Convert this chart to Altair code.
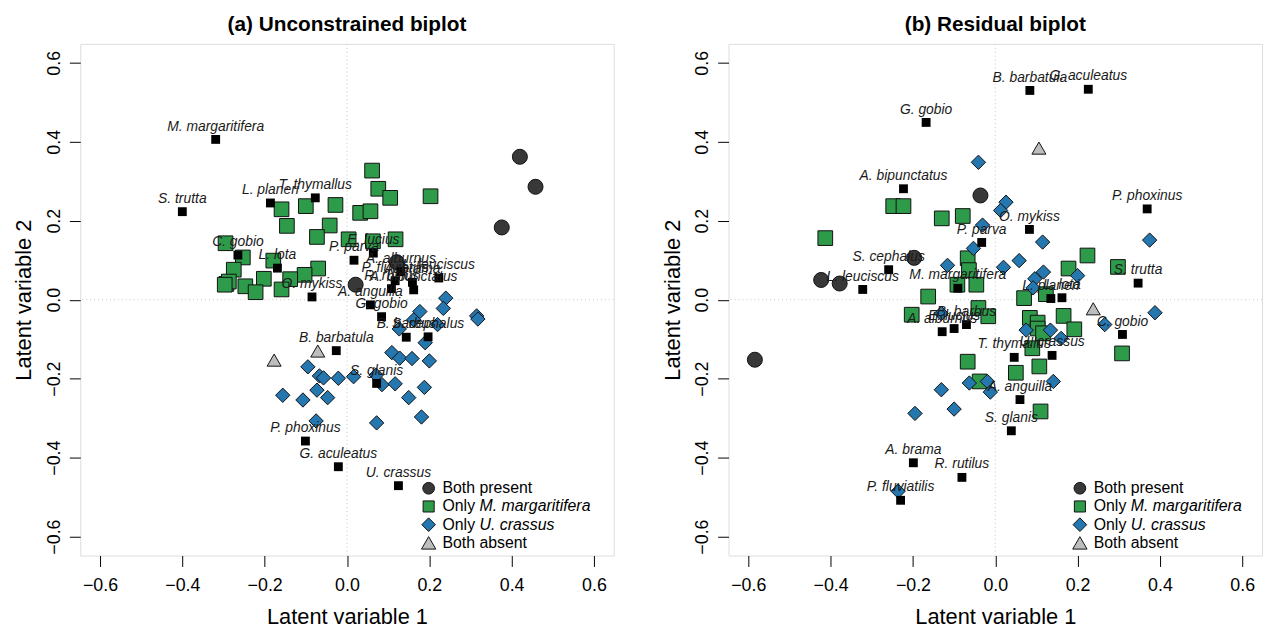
import altair as alt
import pandas as pd

GROUPS = ["Both present", "Only M. margaritifera", "Only U. crassus", "Both absent"]
SHAPES = ["circle", "square", "diamond", "triangle-up"]
FILLS = ["#383838", "#2e9b4a", "#2577b0", "#bdbdbd"]
SIZES = [230, 200, 320, 380]
LEG_PLAIN = ["Both present", "Only ", "Only ", "Both absent"]
LEG_ITALIC = ["", "M. margaritifera", "U. crassus", ""]
LEG_SIZES = [140, 125, 190, 210]
TICKS = [-0.6, -0.4, -0.2, 0.0, 0.2, 0.4, 0.6]
DOMAIN = [-0.648, 0.648]

# ---------------- Panel (a): unconstrained biplot ----------------
a_both_x = [0.420, 0.458, 0.376, 0.121, 0.021]
a_both_y = [0.362, 0.286, 0.183, 0.095, 0.038]
a_absent_x = [-0.177, -0.071]
a_absent_y = [-0.153, -0.130]
a_marg_x = [0.061, 0.076, 0.105, 0.203, -0.028, -0.100, -0.159, 0.032, 0.057, -0.146,
            -0.042, -0.073, 0.004, 0.118, 0.063, -0.295, -0.253, -0.179, -0.275, -0.070,
            -0.103, -0.138, -0.202, -0.293, -0.287, -0.247, -0.222, -0.159, -0.297]
a_marg_y = [0.327, 0.281, 0.258, 0.262, 0.240, 0.237, 0.229, 0.220, 0.224, 0.187,
            0.188, 0.159, 0.153, 0.153, 0.148, 0.143, 0.107, 0.099, 0.076, 0.079,
            0.063, 0.052, 0.053, 0.040, 0.046, 0.034, 0.019, 0.026, 0.038]
a_cras_x = [0.240, 0.234, 0.177, 0.162, 0.315, 0.318, 0.220, 0.127, 0.190, 0.109,
            0.128, 0.158, 0.200, -0.095, -0.067, -0.057, -0.021, 0.016, 0.085, 0.117,
            0.188, -0.156, -0.107, -0.073, -0.047, 0.150, -0.075, 0.072, 0.181, 0.071]
a_cras_y = [0.004, -0.022, -0.030, -0.051, -0.041, -0.049, -0.063, -0.074, -0.109, -0.134,
            -0.148, -0.149, -0.155, -0.170, -0.193, -0.198, -0.199, -0.195, -0.215, -0.213,
            -0.222, -0.242, -0.254, -0.229, -0.248, -0.248, -0.307, -0.312, -0.297, -0.191]

a_species = ["M. margaritifera", "S. trutta", "L. planeri", "T. thymallus", "C. gobio",
             "L. lota", "O. mykiss", "P. parva", "E. lucius", "A. alburnus",
             "P. fluviatilis", "A. brama", "L. leuciscus", "R. rutilus", "A. bipunctatus",
             "A. anguilla", "G. gobio", "B. barbus", "S. cephalus", "B. barbatula",
             "S. glanis", "P. phoxinus", "G. aculeatus", "U. crassus"]
a_species_x = [-0.319, -0.400, -0.186, -0.077, -0.265, -0.169, -0.085, 0.017, 0.064, 0.131,
               0.117, 0.159, 0.223, 0.108, 0.162, 0.057, 0.084, 0.144, 0.197, -0.026,
               0.072, -0.101, -0.021, 0.125]
a_species_y = [0.406, 0.223, 0.245, 0.258, 0.113, 0.080, 0.007, 0.100, 0.118, 0.071,
               0.048, 0.044, 0.055, 0.028, 0.025, -0.013, -0.043, -0.095, -0.094, -0.129,
               -0.212, -0.358, -0.423, -0.471]

# ---------------- Panel (b): residual biplot ----------------
b_both_x = [-0.036, -0.197, -0.423, -0.378, -0.584]
b_both_y = [0.264, 0.106, 0.050, 0.041, -0.152]
b_absent_x = [0.106, 0.238]
b_absent_y = [0.384, -0.023]
b_marg_x = [-0.413, -0.248, -0.223, -0.130, -0.079, -0.067, -0.064, -0.092, -0.046, -0.163,
            -0.203, -0.041, -0.017, 0.070, 0.123, 0.084, 0.103, 0.103, 0.116, 0.166,
            0.192, 0.178, 0.224, 0.298, -0.067, 0.090, 0.050, 0.107, -0.038, 0.110, 0.308]
b_marg_y = [0.156, 0.237, 0.237, 0.206, 0.212, 0.105, 0.075, 0.038, 0.038, 0.008,
            -0.038, -0.021, -0.042, 0.004, 0.014, -0.046, -0.058, -0.073, -0.085, -0.041,
            -0.075, 0.079, 0.112, 0.083, -0.157, -0.123, -0.185, -0.169, -0.207, -0.283, -0.136]
b_cras_x = [-0.041, 0.026, 0.013, -0.031, 0.115, -0.053, -0.116, 0.020, 0.058, 0.117,
            0.096, 0.092, 0.200, 0.375, -0.131, 0.075, 0.134, 0.160, 0.266, 0.388,
            -0.063, -0.019, -0.012, 0.141, -0.131, -0.100, -0.195, -0.236]
b_cras_y = [0.348, 0.247, 0.226, 0.189, 0.146, 0.130, 0.087, 0.082, 0.099, 0.070,
            0.053, 0.030, 0.061, 0.151, -0.035, -0.077, -0.077, -0.098, -0.063, -0.033,
            -0.211, -0.207, -0.234, -0.207, -0.228, -0.277, -0.288, -0.485]

b_species = ["B. barbatula", "G. aculeatus", "G. gobio", "A. bipunctatus", "P. phoxinus",
             "O. mykiss", "P. parva", "S. cephalus", "L. leuciscus", "M. margaritifera",
             "S. trutta", "L. planeri", "L. lota", "C. gobio", "A. alburnus",
             "E. lucius", "B. barbus", "T. thymallus", "U. crassus", "A. anguilla",
             "S. glanis", "A. brama", "R. rutilus", "P. fluviatilis"]
b_species_x = [0.084, 0.226, -0.168, -0.223, 0.369, 0.083, -0.033, -0.259, -0.322, -0.091,
               0.347, 0.135, 0.162, 0.309, -0.129, -0.100, -0.070, 0.046, 0.138, 0.060,
               0.039, -0.199, -0.081, -0.230]
b_species_y = [0.530, 0.533, 0.449, 0.281, 0.230, 0.178, 0.145, 0.076, 0.026, 0.029,
               0.042, 0.003, 0.005, -0.088, -0.081, -0.073, -0.063, -0.146, -0.141, -0.253,
               -0.332, -0.413, -0.450, -0.508]

FONT = "Liberation Sans"
FILL_SCALE = alt.Scale(domain=GROUPS, range=FILLS)
SHAPE_SCALE = alt.Scale(domain=GROUPS, range=SHAPES)


def sites_frame(both, marg, cras, absent):
    rows = []
    for grp, (xs, ys) in zip([GROUPS[1], GROUPS[2], GROUPS[0], GROUPS[3]],
                             [marg, cras, both, absent]):
        for x, y in zip(xs, ys):
            rows.append({"x": x, "y": y, "group": grp, "order": len(rows)})
    return pd.DataFrame(rows)


def legend_layers(sym_x, text_x, top_y, step):
    layers = []
    for i, grp in enumerate(GROUPS):
        row = pd.DataFrame({"group": [grp], "plain": [LEG_PLAIN[i]], "ital": [LEG_ITALIC[i]]})
        yv = alt.value(top_y + i * step)
        layers.append(alt.Chart(row).mark_point(filled=True, stroke="#111", strokeWidth=1,
                                                opacity=1, size=LEG_SIZES[i]).encode(
            x=alt.value(sym_x), y=yv,
            fill=alt.Fill("group:N", scale=FILL_SCALE, legend=None),
            shape=alt.Shape("group:N", scale=SHAPE_SCALE, legend=None)))
        layers.append(alt.Chart(row).mark_text(font=FONT, fontSize=16, align="left",
                                               baseline="middle", color="#000").encode(
            x=alt.value(text_x), y=yv, text="plain:N"))
        if LEG_ITALIC[i]:
            layers.append(alt.Chart(row).mark_text(font=FONT, fontSize=16, align="left",
                                                   baseline="middle", fontStyle="italic",
                                                   color="#000").encode(
                x=alt.value(text_x + 37.5), y=yv, text="ital:N"))
    return layers


def panel(title, sites, species, sx, sy, sym_x, text_x):
    xs = alt.X("x:Q", scale=alt.Scale(domain=DOMAIN, nice=False, zero=False),
               axis=alt.Axis(values=TICKS, format=".1f", title="Latent variable 1",
                             tickSize=11, labelPadding=10, labelFontSize=18,
                             titleFontSize=22, titlePadding=13, titleFontWeight="normal",
                             domain=False, grid=False, tickColor="#000", labelColor="#000",
                             titleColor="#000", labelFont=FONT, titleFont=FONT,
                             labelFlush=False))
    ys = alt.Y("y:Q", scale=alt.Scale(domain=DOMAIN, nice=False, zero=False),
               axis=alt.Axis(values=TICKS, format=".1f", title="Latent variable 2",
                             tickSize=11, labelPadding=6, labelFontSize=18, labelAngle=270,
                             titleFontSize=22, titlePadding=10, titleFontWeight="normal",
                             domain=False, grid=False, tickColor="#000", labelColor="#000",
                             titleColor="#000", labelFont=FONT, titleFont=FONT,
                             labelFlush=False))

    zero = pd.DataFrame({"v": [0.0]})
    vline = alt.Chart(zero).mark_rule(color="#c8c8c8", strokeDash=[1, 3], strokeWidth=1).encode(
        x=alt.X("v:Q", scale=alt.Scale(domain=DOMAIN, nice=False, zero=False)))
    hline = alt.Chart(zero).mark_rule(color="#c8c8c8", strokeDash=[1, 3], strokeWidth=1).encode(
        y=alt.Y("v:Q", scale=alt.Scale(domain=DOMAIN, nice=False, zero=False)))

    pts = alt.Chart(sites).mark_point(filled=True, stroke="#111", strokeWidth=1, opacity=1).encode(
        x=xs, y=ys,
        fill=alt.Fill("group:N", scale=FILL_SCALE, legend=None),
        shape=alt.Shape("group:N", scale=SHAPE_SCALE, legend=None),
        size=alt.Size("group:N", scale=alt.Scale(domain=GROUPS, range=SIZES), legend=None),
        order=alt.Order("order:Q"),
    )

    sp = pd.DataFrame({"name": species, "x": sx, "y": sy})
    sq = alt.Chart(sp).mark_square(size=80, color="#000", opacity=1).encode(x="x:Q", y="y:Q")
    txt = alt.Chart(sp).mark_text(font=FONT, fontSize=14, fontStyle="italic", color="#1a1a1a",
                                  baseline="alphabetic", dy=-9).encode(
        x="x:Q", y="y:Q", text="name:N")

    layers = [vline, hline, pts, sq, txt] + legend_layers(sym_x, text_x, 449, 18.4)
    return alt.layer(*layers).properties(
        width=539, height=517,
        title=alt.TitleParams(title, fontSize=21, fontWeight="bold", font=FONT,
                              anchor="middle", frame="group", offset=8, color="#000"),
    )


sites_a = sites_frame((a_both_x, a_both_y), (a_marg_x, a_marg_y), (a_cras_x, a_cras_y),
                      (a_absent_x, a_absent_y))
sites_b = sites_frame((b_both_x, b_both_y), (b_marg_x, b_marg_y), (b_cras_x, b_cras_y),
                      (b_absent_x, b_absent_y))

pa = panel("(a) Unconstrained biplot", sites_a, a_species, a_species_x, a_species_y, 352, 366)
pb = panel("(b) Residual biplot", sites_b, b_species, b_species_x, b_species_y, 355, 369)

chart = alt.hconcat(pa, pb, spacing=46).properties(
    padding={"left": 4, "top": 3, "right": 0, "bottom": 0}
).configure_view(stroke="#000", strokeWidth=1).configure(background="white")

chart.save("out.html", embed_options={"renderer": "svg", "actions": False})
